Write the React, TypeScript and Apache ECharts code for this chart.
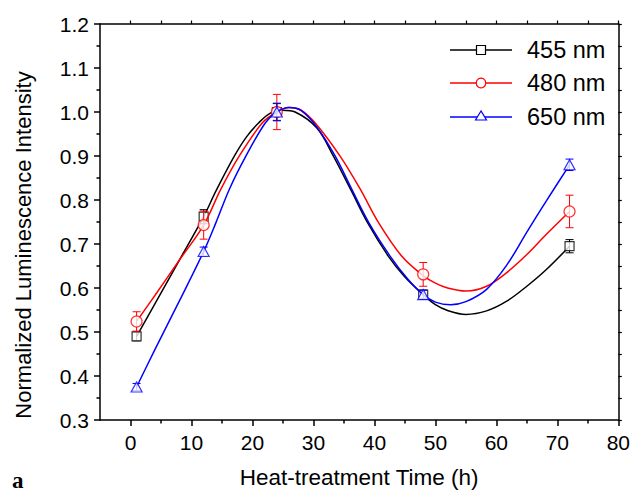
import React, { useEffect, useRef } from "react";
import * as echarts from "echarts";

// measured data points
const hours = [1, 12, 24, 48, 72];
const v455 = [0.49, 0.762, 1.0, 0.585, 0.695];
const e455 = [0.01, 0.016, 0.02, 0.01, 0.015];
const v480 = [0.524, 0.743, 1.0, 0.631, 0.774];
const e480 = [0.022, 0.032, 0.04, 0.027, 0.037];
const v650 = [0.375, 0.683, 1.0, 0.585, 0.88];
const e650 = [0.008, 0.01, 0.019, 0.01, 0.013];

// fitted curves
const c455T = [1, 4, 8, 12, 14, 17, 19, 21, 23, 25, 27, 30.6, 33.3, 36.1, 38.9, 42.3, 45, 48, 50, 52, 55, 58.4, 61.7, 65, 68.2, 72];
const c455V = [0.49, 0.564, 0.663, 0.762, 0.82, 0.899, 0.943, 0.975, 0.998, 1.004, 1.0, 0.963, 0.899, 0.824, 0.748, 0.672, 0.625, 0.585, 0.562, 0.549, 0.54, 0.548, 0.57, 0.604, 0.642, 0.695];
const c480T = [1, 4, 8, 12, 14.8, 17.8, 21.6, 24, 26, 28, 30.6, 34.4, 37.7, 40.7, 44.5, 48, 50, 52, 55, 58.4, 61.7, 65, 68.2, 72];
const c480V = [0.524, 0.583, 0.663, 0.743, 0.824, 0.899, 0.975, 1.0, 1.01, 1.004, 0.97, 0.899, 0.824, 0.748, 0.672, 0.628, 0.611, 0.6, 0.593, 0.604, 0.635, 0.676, 0.722, 0.774];
const c650T = [1, 4, 8, 12, 14, 16.2, 18.9, 22.1, 24, 26, 28, 30.6, 33.6, 36.3, 39.1, 42.6, 45.5, 48, 50, 52.5, 55, 58.4, 61.7, 65, 68.2, 72];
const c650V = [0.375, 0.46, 0.57, 0.683, 0.748, 0.824, 0.899, 0.975, 1.0, 1.01, 1.003, 0.965, 0.899, 0.824, 0.748, 0.672, 0.62, 0.585, 0.568, 0.562, 0.569, 0.597, 0.652, 0.727, 0.798, 0.88];

const xMajor = [0, 10, 20, 30, 40, 50, 60, 70, 80];
const xMinor = [5, 15, 25, 35, 45, 55, 65, 75];
const xTop = [0, 5, 10, 15, 20, 25, 30, 35, 40, 45, 50, 55, 60, 65, 70, 75, 80];

const seriesNames = ["455 nm", "480 nm", "650 nm"];
const colors = ["#000000", "#ff0000", "#0000ff"];
const symbols = ["rect", "circle", "triangle"];
const symbolSizes: any[] = [9, 11, [11, 10]];

const FONT = "'Liberation Sans', Arial, sans-serif";

function zip(a: number[], b: number[], c?: number[]) {
  return a.map((x, i) => (c ? [x, b[i], c[i]] : [x, b[i]]));
}

export default function App() {
  const ref = useRef<HTMLDivElement>(null);
  useEffect(() => {
    if (!ref.current) return;
    const chart = echarts.init(ref.current, null, { renderer: "svg" });
    const curves = [zip(c455T, c455V), zip(c480T, c480V), zip(c650T, c650V)];
    const pts = [zip(hours, v455, e455), zip(hours, v480, e480), zip(hours, v650, e650)];

    const series: any[] = [];
    for (let k = 0; k < 3; k++) {
      const col = colors[k];
      series.push({
        type: "line",
        name: seriesNames[k],
        data: curves[k],
        smooth: 0.35,
        showSymbol: false,
        symbol: "none",
        lineStyle: { color: col, width: 1.5 },
        xAxisIndex: 0,
        yAxisIndex: 0,
        z: 2 + k,
      });
      series.push({
        type: "custom",
        name: seriesNames[k] + " err",
        data: pts[k],
        xAxisIndex: 0,
        yAxisIndex: 0,
        encode: { x: 0, y: 1 },
        z: 2 + k,
        renderItem: (params: any, api: any) => {
          const x = api.value(0);
          const y = api.value(1);
          const e = api.value(2);
          const t = api.coord([x, y + e]);
          const b = api.coord([x, y - e]);
          const hw = 4;
          const st = { stroke: col, lineWidth: 1 };
          return {
            type: "group",
            children: [
              { type: "line", shape: { x1: t[0], y1: t[1], x2: b[0], y2: b[1] }, style: st },
              { type: "line", shape: { x1: t[0] - hw, y1: t[1], x2: t[0] + hw, y2: t[1] }, style: st },
              { type: "line", shape: { x1: b[0] - hw, y1: b[1], x2: b[0] + hw, y2: b[1] }, style: st },
            ],
          };
        },
      });
      series.push({
        type: "scatter",
        name: seriesNames[k] + " pts",
        data: pts[k].map((p) => [p[0], p[1]]),
        symbol: symbols[k],
        symbolSize: symbolSizes[k],
        itemStyle: { color: "#ffffff", borderColor: col, borderWidth: 1.2 },
        xAxisIndex: 0,
        yAxisIndex: 0,
        z: 2 + k,
      });
    }

    // legend drawn as graphic
    const g: any[] = [];
    const rowsY = [50, 83, 117];
    for (let k = 0; k < 3; k++) {
      const y = rowsY[k];
      const col = colors[k];
      g.push({
        type: "line",
        shape: { x1: 450, y1: y, x2: 512, y2: y },
        style: { stroke: col, lineWidth: 1.5 },
        z: 10,
      });
      if (k === 0) {
        g.push({
          type: "rect",
          shape: { x: 476.5, y: y - 4.5, width: 9, height: 9 },
          style: { fill: "#fff", stroke: col, lineWidth: 1.2 },
          z: 11,
        });
      } else if (k === 1) {
        g.push({
          type: "circle",
          shape: { cx: 481, cy: y, r: 4.8 },
          style: { fill: "#fff", stroke: col, lineWidth: 1.2 },
          z: 11,
        });
      } else {
        g.push({
          type: "polygon",
          shape: { points: [[481, y - 6], [475.5, y + 3], [486.5, y + 3]] },
          style: { fill: "#fff", stroke: col, lineWidth: 1.2 },
          z: 11,
        });
      }
      g.push({
        type: "text",
        x: 527,
        y: y,
        style: {
          text: seriesNames[k],
          fontSize: 23.5,
          fontFamily: FONT,
          fill: "#000",
          verticalAlign: "middle",
          align: "left",
        },
        z: 11,
      });
    }
    g.push({
      type: "text",
      x: 23,
      y: 245,
      rotation: Math.PI / 2,
      style: {
        text: "Normalized Luminescence Intensity",
        fontSize: 22,
        fontFamily: FONT,
        fill: "#000",
        verticalAlign: "middle",
        align: "center",
      },
      z: 11,
    });
    g.push({
      type: "text",
      x: 12,
      y: 469,
      style: {
        text: "a",
        fontSize: 23,
        fontWeight: "bold",
        fontFamily: "'Liberation Serif', 'Times New Roman', serif",
        fill: "#000",
        verticalAlign: "top",
        align: "left",
      },
      z: 11,
    });

    const axisLine = { show: true, onZero: false, lineStyle: { color: "#000", width: 1.5 } };

    chart.setOption({
      animation: false,
      backgroundColor: "#ffffff",
      grid: { left: 100, top: 24, right: 11, bottom: 73, containLabel: false },
      xAxis: [
        {
          type: "value",
          position: "bottom",
          min: -5,
          max: 80,
          axisLine,
          axisTick: { show: true, inside: false, length: 6, customValues: xMajor, lineStyle: { color: "#000", width: 1.5 } },
          axisLabel: { show: true, customValues: xMajor, fontSize: 21, color: "#000", fontFamily: FONT, margin: 12 },
          splitLine: { show: false },
          name: "Heat-treatment Time (h)",
          nameLocation: "middle",
          nameGap: 46,
          nameTextStyle: { fontSize: 22.5, color: "#000", fontFamily: FONT },
        },
        {
          type: "value",
          position: "bottom",
          min: -5,
          max: 80,
          axisLine: { show: false, onZero: false },
          axisTick: { show: true, inside: false, length: 3.5, customValues: xMinor, lineStyle: { color: "#000", width: 1.5 } },
          axisLabel: { show: false },
          splitLine: { show: false },
        },
        {
          type: "value",
          position: "top",
          min: -5,
          max: 80,
          axisLine,
          axisTick: { show: true, inside: false, length: 3.5, customValues: xTop, lineStyle: { color: "#000", width: 1.2 } },
          axisLabel: { show: false },
          splitLine: { show: false },
        },
      ],
      yAxis: [
        {
          type: "value",
          position: "left",
          min: 0.3,
          max: 1.2,
          interval: 0.1,
          axisLine,
          axisTick: { show: true, inside: false, length: 6, lineStyle: { color: "#000", width: 1.5 } },
          minorTick: { show: true, splitNumber: 2, length: 3.5, lineStyle: { color: "#000", width: 1.5 } },
          axisLabel: {
            show: true,
            fontSize: 21,
            color: "#000",
            fontFamily: FONT,
            margin: 11,
            formatter: (v: number) => v.toFixed(1),
          },
          splitLine: { show: false },
          minorSplitLine: { show: false },
        },
        {
          type: "value",
          position: "right",
          min: 0.3,
          max: 1.2,
          interval: 0.05,
          axisLine,
          axisTick: { show: true, inside: false, length: 3.5, lineStyle: { color: "#000", width: 1.2 } },
          axisLabel: { show: false },
          splitLine: { show: false },
        },
      ],
      graphic: g,
      series,
    });
    return () => chart.dispose();
  }, []);
  return (
    <div
      ref={ref}
      style={{ position: "fixed", left: 0, top: 0, width: 633, height: 494, background: "#fff" }}
    />
  );
}
